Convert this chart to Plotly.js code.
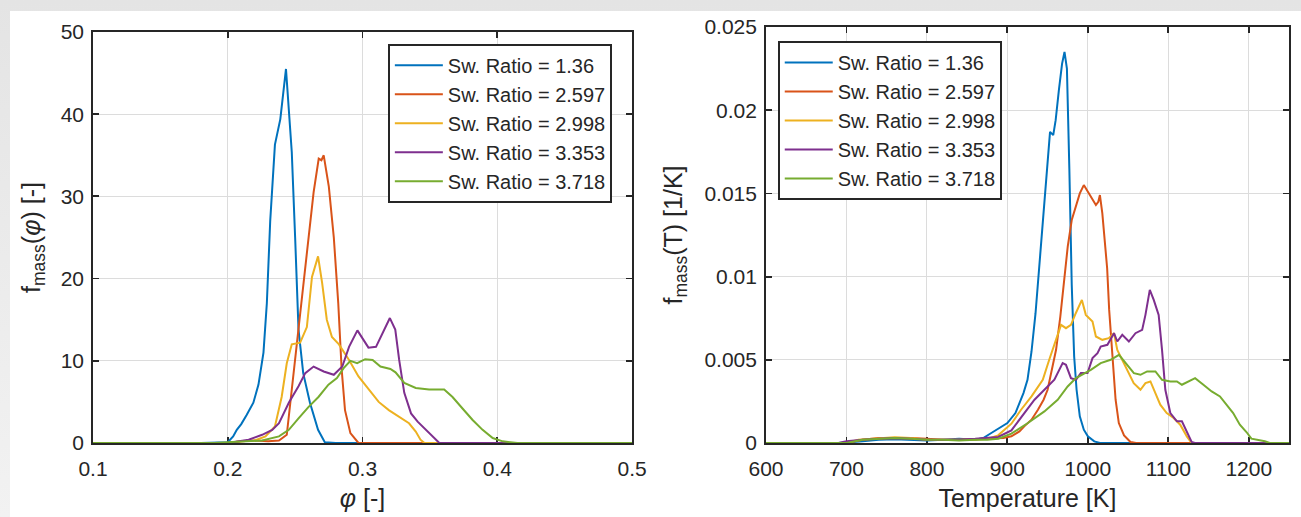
<!DOCTYPE html>
<html>
<head>
<meta charset="utf-8">
<script src="https://cdn.plot.ly/plotly-3.0.1.min.js"></script>
<style>
  html, body { margin: 0; padding: 0; width: 1301px; height: 517px; overflow: hidden;
    background: linear-gradient(#e4e4e4, #f2f2f2); }
  #chart { position: absolute; left: 10px; top: 11px; width: 1291px; height: 506px; background: #ffffff; }
</style>
</head>
<body>
<div id="chart"></div>
<script>
// ---------- Series labels ----------
const seriesNames = ["Sw. Ratio = 1.36", "Sw. Ratio = 2.597", "Sw. Ratio = 2.998", "Sw. Ratio = 3.353", "Sw. Ratio = 3.718"];
const seriesColors = ["#0072BD", "#D95319", "#EDB120", "#7E2F8E", "#77AC30"];

// ---------- Left panel: f_mass(phi) ----------
const phi_136 = [0.1, 0.18, 0.2, 0.204, 0.2067, 0.21, 0.214, 0.219, 0.2228, 0.2265, 0.229, 0.2315, 0.235, 0.239, 0.2432, 0.2475, 0.25, 0.2525, 0.256, 0.261, 0.267, 0.272, 0.28, 0.5];
const f_136   = [0, 0, 0.1, 0.8, 1.6, 2.3, 3.4, 4.9, 7.1, 11, 17, 27, 36.3, 39.4, 45.5, 35.4, 25, 13.8, 8.5, 4.9, 1.6, 0.1, 0, 0];

const phi_2597 = [0.1, 0.2, 0.21, 0.22, 0.23, 0.238, 0.2438, 0.2475, 0.2525, 0.2587, 0.2637, 0.2675, 0.2695, 0.2712, 0.275, 0.2787, 0.282, 0.2845, 0.287, 0.291, 0.297, 0.5];
const f_2597   = [0, 0, 0.2, 0.3, 0.2, 0.3, 1, 6.5, 14, 23.5, 30.5, 34.6, 34.4, 35, 31.2, 25, 17, 9, 4, 1.2, 0, 0];

const phi_2998 = [0.1, 0.2, 0.21, 0.22, 0.228, 0.235, 0.24, 0.2438, 0.2475, 0.2537, 0.2587, 0.2625, 0.267, 0.27, 0.2735, 0.2773, 0.2825, 0.29, 0.297, 0.3047, 0.312, 0.3195, 0.327, 0.3345, 0.3395, 0.343, 0.346, 0.5];
const f_2998   = [0, 0, 0.2, 0.3, 0.8, 2, 5.6, 9.7, 12, 12.2, 14.1, 20.2, 22.7, 19.5, 15, 12.9, 12, 10.1, 8.1, 6.5, 5, 4, 3.2, 2.4, 1.4, 0.4, 0, 0];

const phi_3353 = [0.1, 0.2, 0.2155, 0.2255, 0.233, 0.238, 0.2453, 0.2525, 0.2575, 0.2637, 0.2712, 0.2787, 0.285, 0.29, 0.2962, 0.2999, 0.3044, 0.31, 0.3148, 0.3203, 0.3243, 0.3272, 0.331, 0.336, 0.3409, 0.3471, 0.3533, 0.357, 0.5];
const f_3353   = [0, 0, 0.4, 1, 1.6, 2.4, 4.9, 6.9, 8.5, 9.3, 8.7, 8.3, 9.3, 11.7, 13.7, 12.8, 11.6, 11.7, 13.4, 15.2, 13.8, 10.1, 6.1, 3.6, 2.6, 1.6, 0.6, 0, 0];

const phi_3718 = [0.1, 0.19, 0.2, 0.2255, 0.238, 0.2453, 0.2525, 0.26, 0.2673, 0.2747, 0.281, 0.286, 0.291, 0.296, 0.302, 0.3075, 0.3133, 0.3207, 0.3245, 0.331, 0.3395, 0.3494, 0.3606, 0.3668, 0.3742, 0.3817, 0.3891, 0.3966, 0.404, 0.415, 0.5];
const f_3718   = [0, 0, 0.1, 0.3, 0.8, 1.6, 3, 4.4, 5.6, 7.1, 7.9, 9.1, 10, 9.7, 10.2, 10.1, 9.3, 9, 8.6, 7.3, 6.7, 6.5, 6.5, 5.6, 4.2, 2.8, 1.6, 0.6, 0.2, 0, 0];

// ---------- Right panel: f_mass(T) ----------
const T_136 = [600, 690, 720, 740, 760, 780, 800, 820, 840, 860, 870, 880, 890, 900, 910, 920, 925, 930, 935, 940, 945, 950, 953, 957, 960, 964, 968, 971, 974, 977, 980, 983, 986, 990, 995, 1000, 1008, 1015, 1250];
const g_136 = [0, 0, 0.0001, 0.0002, 0.00022, 0.0002, 0.00015, 0.0002, 0.00025, 0.0002, 0.0003, 0.0006, 0.0009, 0.0012, 0.0018, 0.003, 0.0038, 0.0055, 0.0078, 0.0108, 0.014, 0.0172, 0.0187, 0.0185, 0.0194, 0.0212, 0.0228, 0.0235, 0.0225, 0.0165, 0.0095, 0.0052, 0.0032, 0.0016, 0.0008, 0.0004, 0.0001, 0, 0];

const T_2597 = [600, 700, 720, 740, 760, 780, 800, 820, 840, 860, 880, 895, 905, 915, 921, 930, 938, 945, 950, 955, 960.5, 965.8, 970, 975, 980, 985, 990, 995, 1000, 1003, 1007, 1010, 1013, 1015, 1018, 1021, 1024, 1026.5, 1030.5, 1034.5, 1038.5, 1045, 1053, 1060, 1250];
const g_2597 = [0, 0, 0.0002, 0.0003, 0.00028, 0.0003, 0.00025, 0.0002, 0.0002, 0.00025, 0.0003, 0.0003, 0.0004, 0.0007, 0.001, 0.0014, 0.002, 0.0026, 0.0032, 0.0043, 0.0056, 0.0076, 0.0096, 0.0118, 0.0134, 0.0142, 0.015, 0.0155, 0.0151, 0.0148, 0.0145, 0.0143, 0.0145, 0.0149, 0.0138, 0.0122, 0.0105, 0.008, 0.005, 0.0026, 0.0012, 0.00046, 0.00006, 0, 0];

const T_2998 = [600, 700, 715, 740, 760, 780, 800, 820, 840, 860, 875, 888.5, 905, 917, 930, 944, 952, 960.5, 966.7, 972.8, 979, 985, 992.6, 997.5, 1005.8, 1010, 1018, 1026, 1032.5, 1036.6, 1044.8, 1051, 1057, 1065.4, 1071.6, 1077.8, 1084, 1090, 1098, 1106.6, 1114.8, 1123, 1129, 1250];
const g_2998 = [0, 0, 0.0002, 0.0003, 0.00035, 0.0003, 0.0002, 0.0002, 0.00018, 0.0002, 0.00025, 0.00046, 0.00116, 0.002, 0.0028, 0.0038, 0.005, 0.0062, 0.0071, 0.0069, 0.0071, 0.0078, 0.0086, 0.0077, 0.0073, 0.0064, 0.0062, 0.0063, 0.0066, 0.0056, 0.0048, 0.0041, 0.0036, 0.0032, 0.0036, 0.0037, 0.003, 0.0023, 0.0018, 0.0015, 0.0011, 0.0004, 0, 0];

const T_3353 = [600, 690, 700, 720, 740, 760, 780, 800, 820, 840, 860, 875, 888.5, 905, 921.4, 933.7, 946, 958.4, 968.7, 972.8, 979, 985.2, 991.4, 999.6, 1005.8, 1012, 1016, 1024.3, 1032.5, 1036.6, 1042.8, 1051, 1059.2, 1067.5, 1071.6, 1077, 1081.9, 1088, 1092.2, 1096.3, 1102.5, 1110.7, 1116.9, 1123, 1129, 1133, 1250];
const g_3353 = [0, 0, 0.0001, 0.0002, 0.00025, 0.0003, 0.00025, 0.0002, 0.0002, 0.0002, 0.00025, 0.0003, 0.00036, 0.00076, 0.0018, 0.0026, 0.0032, 0.0038, 0.0048, 0.0047, 0.0039, 0.0038, 0.0042, 0.0042, 0.0051, 0.0054, 0.0058, 0.0059, 0.0066, 0.0061, 0.0065, 0.0061, 0.0066, 0.0068, 0.0077, 0.0092, 0.0086, 0.0077, 0.0056, 0.0032, 0.0018, 0.0013, 0.0013, 0.00066, 0.00006, 0, 0];

const T_3718 = [600, 700, 720, 740, 760, 780, 800, 820, 840, 860, 875, 888.5, 905, 925.5, 946, 962.5, 974.9, 985.2, 993.4, 1003.7, 1016, 1028.4, 1038.7, 1046.9, 1057.2, 1065.4, 1073.7, 1084, 1092.2, 1102.5, 1110.7, 1116.9, 1125, 1133.3, 1143.6, 1153.9, 1164.2, 1172.4, 1180.6, 1188.9, 1197.1, 1203.3, 1212, 1220, 1226, 1250];
const g_3718 = [0, 0, 0.0002, 0.00025, 0.0003, 0.00025, 0.0002, 0.0002, 0.00015, 0.0002, 0.0002, 0.00026, 0.00056, 0.0012, 0.0019, 0.0026, 0.0034, 0.0039, 0.0041, 0.0044, 0.0048, 0.005, 0.0053, 0.0048, 0.0042, 0.0041, 0.0043, 0.0043, 0.0038, 0.0037, 0.0037, 0.0035, 0.0037, 0.0039, 0.0035, 0.0031, 0.0028, 0.0023, 0.0018, 0.0011, 0.00066, 0.00026, 0.0002, 0.0001, 0, 0];

// ---------- Tick values ----------
const phiTicks = [0.1, 0.2, 0.3, 0.4, 0.5];
const fPhiTicks = [0, 10, 20, 30, 40, 50];
const tTicks = [600, 700, 800, 900, 1000, 1100, 1200];
const fTTicks = [0, 0.005, 0.01, 0.015, 0.02, 0.025];
const fTTickText = ['0', '0.005', '0.01', '0.015', '0.02', '0.025'];

const leftX = [phi_136, phi_2597, phi_2998, phi_3353, phi_3718];
const leftY = [f_136, f_2597, f_2998, f_3353, f_3718];
const rightX = [T_136, T_2597, T_2998, T_3353, T_3718];
const rightY = [g_136, g_2597, g_2998, g_3353, g_3718];

const traces = [];
for (let i = 0; i < 5; i++) {
  traces.push({
    x: leftX[i], y: leftY[i], type: 'scatter', mode: 'lines',
    name: seriesNames[i], line: { color: seriesColors[i], width: 2 },
    xaxis: 'x', yaxis: 'y', legend: 'legend', cliponaxis: false
  });
}
for (let i = 0; i < 5; i++) {
  traces.push({
    x: rightX[i], y: rightY[i], type: 'scatter', mode: 'lines',
    name: seriesNames[i], line: { color: seriesColors[i], width: 2 },
    xaxis: 'x2', yaxis: 'y2', legend: 'legend2', cliponaxis: false
  });
}

const FONT = '"Liberation Sans", Arial, Helvetica, sans-serif';
const INK = '#262626';
const axisCommon = {
  showline: true, linecolor: INK, linewidth: 1.8, mirror: 'ticks',
  ticks: 'inside', ticklen: 6, tickwidth: 1.8, tickcolor: INK,
  showgrid: true, gridcolor: '#dcdcdc', gridwidth: 1, zeroline: false,
  tickfont: { family: FONT, size: 21, color: INK },
  layer: 'below traces', exponentformat: 'none', separatethousands: false
};
const titleFont = { family: FONT, size: 25, color: INK };
const legendCommon = {
  font: { family: FONT, size: 20, color: INK },
  bgcolor: '#ffffff', bordercolor: INK, borderwidth: 1.8,
  itemwidth: 48, tracegroupgap: 0, xanchor: 'left', yanchor: 'top'
};

const layout = {
  width: 1291, height: 506,
  margin: { l: 83, r: 12, t: 16, b: 74 },
  paper_bgcolor: '#ffffff', plot_bgcolor: '#ffffff',
  font: { family: FONT, color: INK },
  showlegend: true,
  xaxis: Object.assign({}, axisCommon, {
    domain: [0, 0.4507], range: [0.1, 0.5], tickvals: phiTicks, anchor: 'y', ticklabelstandoff: 6,
    title: { text: '<i>φ</i> [-]', font: titleFont, standoff: 10 }
  }),
  yaxis: Object.assign({}, axisCommon, {
    domain: [0, 0.988], range: [0, 50], tickvals: fPhiTicks, anchor: 'x', ticklabelstandoff: 3,
    title: { text: 'f<sub>mass</sub>(<i>φ</i>) [-]', font: titleFont, standoff: 13 }
  }),
  xaxis2: Object.assign({}, axisCommon, {
    domain: [0.5627, 1], range: [600, 1250], tickvals: tTicks, anchor: 'y2', ticklabelstandoff: 6,
    title: { text: 'Temperature [K]', font: titleFont, standoff: 10 }
  }),
  yaxis2: Object.assign({}, axisCommon, {
    domain: [0, 1], range: [0, 0.025], tickvals: fTTicks, ticktext: fTTickText, anchor: 'x2', ticklabelstandoff: 3,
    title: { text: 'f<sub>mass</sub>(T) [1/K]', font: titleFont, standoff: 15 }
  }),
  legend: Object.assign({}, legendCommon, { x: 0.2467, y: 0.959 }),
  legend2: Object.assign({}, legendCommon, { x: 0.5727, y: 0.966 })
};

Plotly.newPlot('chart', traces, layout, { displayModeBar: false, staticPlot: true });
</script>
</body>
</html>
